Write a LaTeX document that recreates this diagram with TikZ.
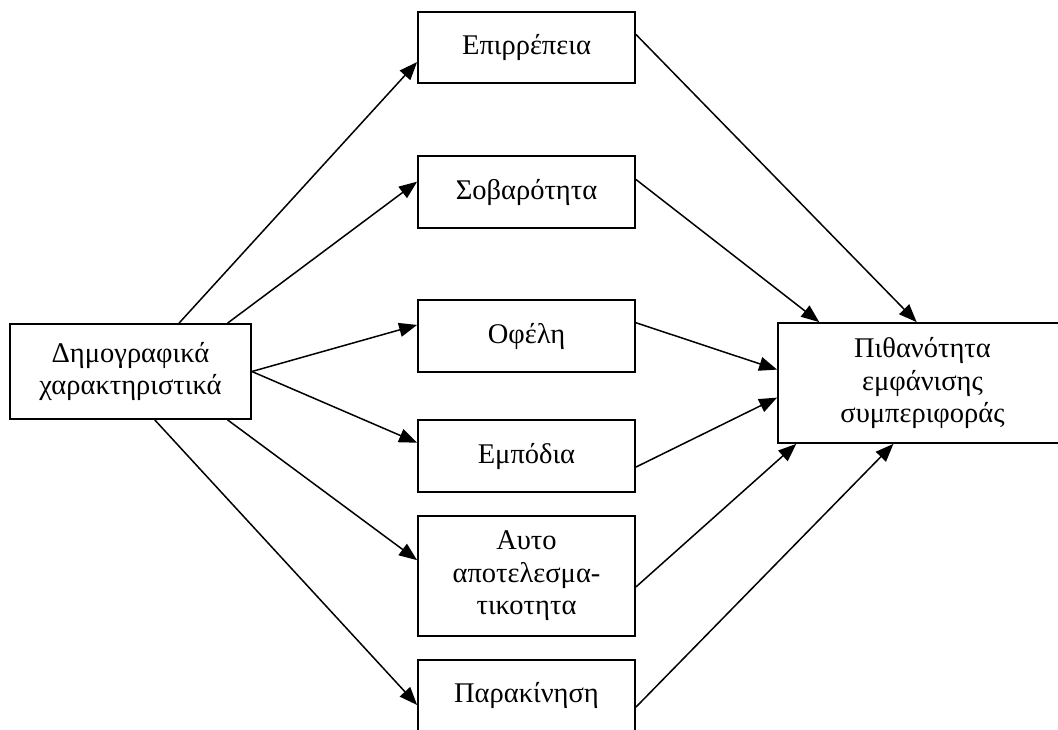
\documentclass[tikz,border=0pt]{standalone}
\usepackage{fontspec}
\setmainfont{Liberation Serif}
\usetikzlibrary{arrows.meta,calc}
\begin{document}
\begin{tikzpicture}[x=1pt,y=-1pt,
  box/.style={draw,line width=1.8pt,rectangle,inner sep=0pt,align=center,
    font=\fontsize{28.5}{32.5}\selectfont},
  mid/.style={box,minimum width=217pt,minimum height=71pt},
  conn/.style={line width=1.5pt,-{Triangle[length=18pt,width=14pt]}}]
\useasboundingbox (0,0) rectangle (1058,729);
\node[box,minimum width=241pt,minimum height=95pt] (L) at (130.5,371.5) {Δημογραφικά\\χαρακτηριστικά};
\node[mid] (E1) at (526.5,47.5) {Επιρρέπεια};
\node[mid,minimum height=72pt] (E2) at (526.5,192) {Σοβαρότητα};
\node[mid,minimum height=72pt] (E3) at (526.5,336) {Οφέλη};
\node[mid,minimum height=72pt] (E4) at (526.5,456) {Εμπόδια};
\node[mid,minimum height=120pt] (E5) at (526.5,576) {Αυτο\\αποτελεσμα-\\τικοτητα};
\node[mid] (E6) at (526.5,695.5) {Παρακίνηση};
\node[box,minimum width=289pt,minimum height=120pt] (R) at (922.5,383) {Πιθανότητα\\εμφάνισης\\συμπεριφοράς};
% left to middle
\draw[conn] ($(L.north west)!0.70!(L.north east)$) -- ($(E1.north west)!0.70!(E1.south west)$);
\draw[conn] ($(L.north west)!0.90!(L.north east)$) -- ($(E2.north west)!0.36!(E2.south west)$);
\draw[conn] (L.east) -- ($(E3.north west)!0.35!(E3.south west)$);
\draw[conn] (L.east) -- ($(E4.north west)!0.32!(E4.south west)$);
\draw[conn] ($(L.south west)!0.90!(L.south east)$) -- ($(E5.north west)!0.37!(E5.south west)$);
\draw[conn] ($(L.south west)!0.60!(L.south east)$) -- ($(E6.north west)!0.63!(E6.south west)$);
% middle to right
\draw[conn] ($(E1.north east)!0.32!(E1.south east)$) -- ($(R.north west)!0.48!(R.north east)$);
\draw[conn] ($(E2.north east)!0.33!(E2.south east)$) -- ($(R.north west)!0.145!(R.north east)$);
\draw[conn] ($(E3.north east)!0.32!(E3.south east)$) -- ($(R.north west)!0.39!(R.south west)$);
\draw[conn] ($(E4.north east)!0.65!(E4.south east)$) -- ($(R.north west)!0.62!(R.south west)$);
\draw[conn] ($(E5.north east)!0.59!(E5.south east)$) -- ($(R.south west)!0.066!(R.south east)$);
\draw[conn] ($(E6.north east)!0.66!(E6.south east)$) -- ($(R.south west)!0.40!(R.south east)$);
\end{tikzpicture}
\end{document}
